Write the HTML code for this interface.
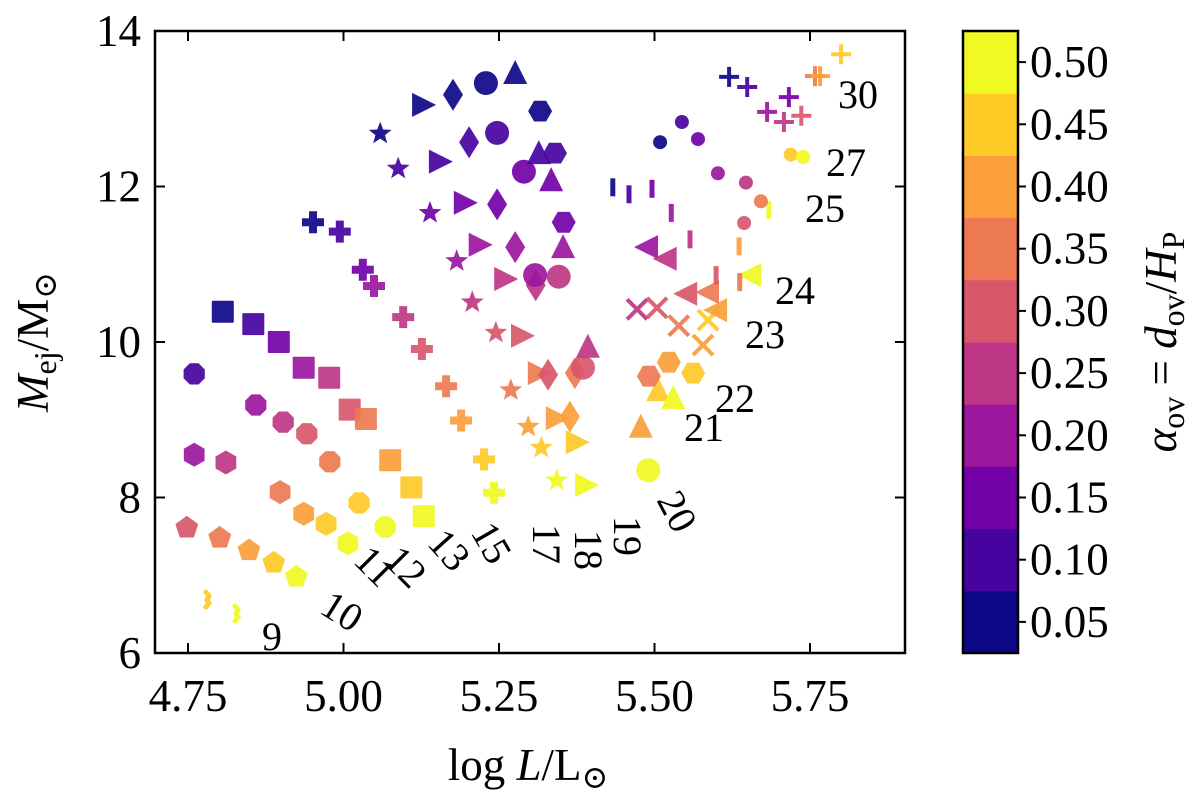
<!DOCTYPE html>
<html><head><meta charset="utf-8"><style>
html,body{margin:0;padding:0;background:#fff;}
svg{display:block;font-family:"Liberation Serif","DejaVu Serif",serif;}
</style></head><body>
<svg id="chart" width="1200" height="802" viewBox="0 0 1200 802" xmlns="http://www.w3.org/2000/svg">
<rect width="1200" height="802" fill="#fff"/>
<g id="marks"></g>
<g id="labels"></g>
<g id="axes"></g>
<g id="cbar"></g>
</svg>
<script>
// ---- data (log L, M_ej, alpha_ov) per initial mass ----
const m9_logL=[4.782,4.829];const m9_mej=[6.68,6.50];const m9_alpha=[0.45,0.50];
const m10_logL=[4.748,4.801,4.848,4.888,4.924];const m10_mej=[7.61,7.48,7.32,7.16,6.98];const m10_alpha=[0.30,0.35,0.40,0.45,0.50];
const m11_logL=[4.760,4.811,4.898,4.936,4.972,5.007];const m11_mej=[8.55,8.45,8.07,7.79,7.66,7.41];const m11_alpha=[0.20,0.25,0.35,0.40,0.45,0.50];
const m12_logL=[4.760,4.859,4.903,4.941,4.978,5.025,5.067];const m12_mej=[9.59,9.19,8.97,8.82,8.46,7.93,7.62];const m12_alpha=[0.10,0.20,0.25,0.30,0.35,0.45,0.50];
const m13_logL=[4.806,4.855,4.896,4.936,4.977,5.010,5.036,5.075,5.109,5.129];const m13_mej=[10.39,10.23,10.00,9.67,9.54,9.13,9.01,8.48,8.13,7.76];const m13_alpha=[0.05,0.10,0.15,0.20,0.25,0.30,0.35,0.40,0.45,0.50];
const m15_logL=[4.951,4.994,5.031,5.049,5.096,5.126,5.165,5.189,5.226,5.242];const m15_mej=[11.54,11.42,10.93,10.72,10.32,9.91,9.43,8.99,8.49,8.06];const m15_alpha=[0.05,0.10,0.15,0.20,0.25,0.30,0.35,0.40,0.45,0.50];
const m17_logL=[5.059,5.088,5.139,5.182,5.207,5.245,5.269,5.297,5.318,5.343];const m17_mej=[12.68,12.23,11.66,11.04,10.51,10.12,9.38,8.91,8.64,8.22];const m17_alpha=[0.05,0.10,0.15,0.20,0.25,0.30,0.35,0.40,0.45,0.50];
const m18_logL=[5.128,5.155,5.195,5.219,5.260,5.287,5.314,5.343,5.375,5.390];const m18_mej=[13.05,12.32,11.79,11.25,10.81,10.08,9.60,9.02,8.71,8.16];const m18_alpha=[0.05,0.10,0.15,0.20,0.25,0.30,0.35,0.40,0.45,0.50];
const m19_logL=[5.176,5.202,5.247,5.276,5.309,5.329,5.372,5.364];const m19_mej=[13.18,12.57,11.77,11.22,10.73,9.58,9.60,9.04];const m19_alpha=[0.05,0.10,0.15,0.20,0.25,0.30,0.35,0.40];
const m20_logL=[5.229,5.247,5.290,5.308,5.346,5.385,5.490];const m20_mej=[13.33,12.69,12.19,10.86,10.84,9.67,8.35];const m20_alpha=[0.05,0.10,0.15,0.20,0.25,0.30,0.50];
const m21_logL=[5.276,5.314,5.334,5.353,5.393,5.478,5.506,5.530];const m21_mej=[13.46,12.43,12.08,11.22,9.94,8.91,9.38,9.28];const m21_alpha=[0.05,0.10,0.15,0.20,0.25,0.40,0.45,0.50];
const m22_logL=[5.316,5.340,5.354,5.491,5.523,5.562];const m22_mej=[12.97,12.43,11.54,9.56,9.74,9.60];const m22_alpha=[0.05,0.10,0.15,0.35,0.40,0.45];
const m23_logL=[5.472,5.504,5.539,5.578,5.586];const m23_mej=[10.42,10.44,10.21,9.96,10.28];const m23_alpha=[0.25,0.30,0.35,0.40,0.45];
const m24_logL=[5.488,5.518,5.551,5.586,5.599,5.654];const m24_mej=[11.22,11.07,10.62,10.64,10.41,10.86];const m24_alpha=[0.20,0.25,0.30,0.35,0.40,0.50];
const m25_logL=[5.433,5.459,5.496,5.527,5.557,5.599,5.637,5.636,5.684];const m25_mej=[11.99,11.90,11.97,11.66,11.32,10.86,10.77,11.23,11.70];const m25_alpha=[0.05,0.10,0.15,0.20,0.25,0.30,0.35,0.40,0.50];
const m27_logL=[5.509,5.544,5.570,5.602,5.647,5.644,5.671,5.719,5.739];const m27_mej=[12.57,12.83,12.61,12.17,12.05,11.53,11.81,12.41,12.38];const m27_alpha=[0.05,0.10,0.15,0.20,0.25,0.30,0.35,0.45,0.50];
const m30_logL=[5.620,5.649,5.716,5.681,5.708,5.736,5.758,5.766,5.800];const m30_mej=[13.41,13.28,13.15,12.96,12.83,12.91,13.42,13.42,13.70];const m30_alpha=[0.05,0.10,0.15,0.20,0.25,0.30,0.35,0.40,0.45];
const massNames=["9","10","11","12","13","15","17","18","19","20","21","22","23","24","25","27","30"];
const xTicks=[4.75,5.00,5.25,5.50,5.75];const xTickLabels=["4.75","5.00","5.25","5.50","5.75"];
const yTicks=[6,8,10,12,14];const yTickLabels=["6","8","10","12","14"];
const cbTicks=[0.05,0.10,0.15,0.20,0.25,0.30,0.35,0.40,0.45,0.50];
const cbTickLabels=["0.05","0.10","0.15","0.20","0.25","0.30","0.35","0.40","0.45","0.50"];
const plasma=["#0d0887","#46039f","#7201a8","#9c179e","#bd3786","#d8576b","#ed7953","#fb9f3a","#fdca26","#f0f921"];

const NS="http://www.w3.org/2000/svg";
const X0=155,X1=905,Y0=31,Y1=653;
function sx(v){return 188+(v-4.75)*622;}
function sy(v){return 31+(14-v)*77.75;}
function colorOf(a){let i=Math.round(a/0.05)-1;i=Math.max(0,Math.min(9,i));return plasma[i];}
function mk(tag,attrs,parent){const e=document.createElementNS(NS,tag);for(const k in attrs)e.setAttribute(k,attrs[k]);parent.appendChild(e);return e;}
function poly(n,r,rot){const p=[];for(let i=0;i<n;i++){const a=rot+i*2*Math.PI/n;p.push((r*Math.cos(a)).toFixed(2)+","+(r*Math.sin(a)).toFixed(2));}return p.join(" ");}

const series=[
 {n:"9",x:m9_logL,y:m9_mej,a:m9_alpha,m:"squig"},
 {n:"10",x:m10_logL,y:m10_mej,a:m10_alpha,m:"pent"},
 {n:"11",x:m11_logL,y:m11_mej,a:m11_alpha,m:"hex"},
 {n:"12",x:m12_logL,y:m12_mej,a:m12_alpha,m:"oct"},
 {n:"13",x:m13_logL,y:m13_mej,a:m13_alpha,m:"square"},
 {n:"15",x:m15_logL,y:m15_mej,a:m15_alpha,m:"plusfill"},
 {n:"17",x:m17_logL,y:m17_mej,a:m17_alpha,m:"star"},
 {n:"18",x:m18_logL,y:m18_mej,a:m18_alpha,m:"tright"},
 {n:"19",x:m19_logL,y:m19_mej,a:m19_alpha,m:"diamond"},
 {n:"20",x:m20_logL,y:m20_mej,a:m20_alpha,m:"circle"},
 {n:"21",x:m21_logL,y:m21_mej,a:m21_alpha,m:"tup"},
 {n:"22",x:m22_logL,y:m22_mej,a:m22_alpha,m:"hex2"},
 {n:"23",x:m23_logL,y:m23_mej,a:m23_alpha,m:"x"},
 {n:"24",x:m24_logL,y:m24_mej,a:m24_alpha,m:"tleft"},
 {n:"25",x:m25_logL,y:m25_mej,a:m25_alpha,m:"vline"},
 {n:"27",x:m27_logL,y:m27_mej,a:m27_alpha,m:"dot"},
 {n:"30",x:m30_logL,y:m30_mej,a:m30_alpha,m:"plus"}
];
const marks=document.getElementById('marks');
function drawMarker(g,type,c){
 const f={fill:c};
 switch(type){
  case "squig":mk('path',{d:"M-2,-8 L1,-4 L-1,0 L1,3 L-2,7",stroke:c,"stroke-width":5,fill:"none","stroke-linecap":"round"},g);break;
  case "pent":mk('polygon',Object.assign({points:poly(5,12,-Math.PI/2)},f),g);break;
  case "hex":mk('polygon',Object.assign({points:poly(6,12,-Math.PI/2)},f),g);break;
  case "hex2":mk('polygon',Object.assign({points:poly(6,12,0)},f),g);break;
  case "oct":mk('polygon',Object.assign({points:poly(8,11.5,Math.PI/8)},f),g);break;
  case "square":mk('rect',Object.assign({x:-11,y:-11,width:22,height:22,rx:1},f),g);break;
  case "plusfill":mk('path',Object.assign({d:"M-4,-11h8v7h7v8h-7v7h-8v-7h-7v-8h7z"},f),g);break;
  case "star":{const p=[];for(let i=0;i<10;i++){const r=i%2?5:12;const a=-Math.PI/2+i*Math.PI/5;p.push((r*Math.cos(a)).toFixed(2)+","+(r*Math.sin(a)).toFixed(2));}mk('polygon',Object.assign({points:p.join(" ")},f),g);break;}
  case "tright":mk('polygon',Object.assign({points:"-11,-12 13,0 -11,12"},f),g);break;
  case "tleft":mk('polygon',Object.assign({points:"11,-12 -13,0 11,12"},f),g);break;
  case "tup":mk('polygon',Object.assign({points:"0,-13 12,11 -12,11"},f),g);break;
  case "diamond":mk('polygon',Object.assign({points:"0,-16 10,0 0,16 -10,0"},f),g);break;
  case "circle":mk('circle',Object.assign({r:12},f),g);break;
  case "dot":mk('circle',Object.assign({r:7},f),g);break;
  case "x":mk('path',{d:"M-10,-10L10,10M-10,10L10,-10",stroke:c,"stroke-width":4,fill:"none"},g);break;
  case "vline":mk('line',{x1:0,y1:-9,x2:0,y2:9,stroke:c,"stroke-width":5},g);break;
  case "plus":mk('path',{d:"M-10,0H10M0,-10V10",stroke:c,"stroke-width":4,fill:"none"},g);break;
 }
}
series.forEach(s=>{
 const sg=mk('g',{},marks);
 
 
 for(let i=0;i<s.x.length;i++){
  const g=mk('g',{transform:"translate("+sx(s.x[i]).toFixed(1)+","+sy(s.y[i]).toFixed(1)+")",opacity:0.92},sg);
  
  
  drawMarker(g,s.m,colorOf(s.a[i]));
 }
});

// mass labels
const lab=document.getElementById('labels');
const labelPos=[[262,650,0],[318,612,32],[352,562,45],[382,562,45],[426,544,48],[470,532,60],[533,524,90],[575,530,90],[614,516,90],[656,500,62],[684,441,0],[715,412,0],[745,348,0],[775,304,0],[805,222,0],[826,176,0],[838,108,0]];
massNames.forEach((n,i)=>{
 const p=labelPos[i];
 const t=mk('text',{x:p[0],y:p[1],"font-size":40,fill:"#000",transform:"rotate("+p[2]+" "+p[0]+" "+p[1]+")"},lab);
 
 
 t.textContent=n;
});

// axes
const ax=document.getElementById('axes');
const frame=mk('rect',{x:X0,y:Y0,width:X1-X0,height:Y1-Y0,fill:"none",stroke:"#000","stroke-width":2.5},ax);


xTicks.forEach((v,i)=>{
 const x=sx(v);
 mk('line',{x1:x,y1:Y1,x2:x,y2:Y1-10,stroke:"#000","stroke-width":2},ax);
 mk('line',{x1:x,y1:Y0,x2:x,y2:Y0+10,stroke:"#000","stroke-width":2},ax);
 const t=mk('text',{x:x,y:711,"font-size":45,"text-anchor":"middle"},ax);
 
 
 t.textContent=xTickLabels[i];
});
yTicks.forEach((v,i)=>{
 const y=sy(v);
 mk('line',{x1:X0,y1:y,x2:X0+10,y2:y,stroke:"#000","stroke-width":2},ax);
 mk('line',{x1:X1,y1:y,x2:X1-10,y2:y,stroke:"#000","stroke-width":2},ax);
 const t=mk('text',{x:141,y:y+15,"font-size":45,"text-anchor":"end"},ax);
 
 
 t.textContent=yTickLabels[i];
});
const xt=mk('text',{x:528,y:780,"font-size":45,"text-anchor":"middle"},ax);


xt.innerHTML='log <tspan font-style="italic">L</tspan>/L<tspan font-size="32" dy="8">⊙</tspan>';
const yt=mk('text',{x:0,y:0,"font-size":45,"text-anchor":"middle",transform:"translate(48,342) rotate(-90)"},ax);


yt.innerHTML='<tspan font-style="italic">M</tspan><tspan font-size="32" dy="8">ej</tspan><tspan dy="-8">/M</tspan><tspan font-size="32" dy="8">⊙</tspan>';

// colorbar
const cb=document.getElementById('cbar');
const CX=963,CW=55,CT=31,CB=653;
function cy(v){return CB-(v-0.025)/0.5*(CB-CT);}
plasma.forEach((c,i)=>{
 const v0=0.025+i*0.05;
 const r=mk('rect',{x:CX,y:cy(v0+0.05),width:CW,height:(CB-CT)/10+0.5,fill:c},cb);
 
 
});
mk('rect',{x:CX,y:CT,width:CW,height:CB-CT,fill:"none",stroke:"#000","stroke-width":2.5},cb);
cbTicks.forEach((v,i)=>{
 const y=cy(v);
 mk('line',{x1:CX+CW,y1:y,x2:CX+CW+8,y2:y,stroke:"#000","stroke-width":2},cb);
 const t=mk('text',{x:1030,y:y+15,"font-size":45},cb);
 
 
 t.textContent=cbTickLabels[i];
});
const ct=mk('text',{x:0,y:0,"font-size":45,"text-anchor":"middle",transform:"translate(1176,342) rotate(-90)"},cb);


ct.innerHTML='<tspan font-style="italic">α</tspan><tspan font-size="32" dy="8">ov</tspan><tspan dy="-8"> = </tspan><tspan font-style="italic">d</tspan><tspan font-size="32" dy="8">ov</tspan><tspan dy="-8">/</tspan><tspan font-style="italic">H</tspan><tspan font-size="32" dy="8">P</tspan>';
</script>
</body></html>
